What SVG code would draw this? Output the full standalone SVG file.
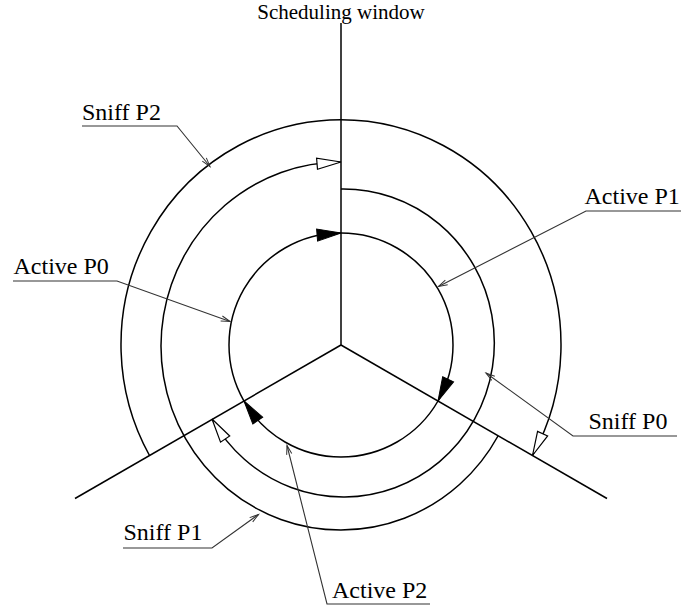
<svg xmlns="http://www.w3.org/2000/svg" width="681" height="607" viewBox="0 0 681 607">
  <style>
    .axis { stroke: #000; stroke-width: 1.5; fill: none; }
    .arc { stroke: #000; stroke-width: 1.5; fill: none; }
    .leader { stroke: #333; stroke-width: 1.1; fill: none; }
    .label { font-family: "Liberation Serif", "Times New Roman", serif; font-size: 24px; fill: #000; }
    .title { font-family: "Liberation Serif", "Times New Roman", serif; font-size: 21px; fill: #000; text-anchor: middle; }
  </style>
  <defs>
    <!-- solid head for the active periods (inner ring) -->
    <marker id="head-solid" markerUnits="userSpaceOnUse" orient="auto" markerWidth="30" markerHeight="20" viewBox="-28 -10 30 20" refX="0" refY="0" overflow="visible">
      <polygon points="0,0 -24.4,-3.9 -23.4,8.1" fill="#000" stroke="#000" stroke-width="1"/>
    </marker>
    <!-- hollow head for the sniff periods -->
    <marker id="head-hollow" markerUnits="userSpaceOnUse" orient="auto" markerWidth="30" markerHeight="20" viewBox="-28 -10 30 20" refX="0" refY="0" overflow="visible">
      <polygon points="0,0 -24.4,-3.8 -23.5,7.2" fill="#fff" stroke="#000" stroke-width="1.2" stroke-linejoin="miter"/>
    </marker>
    <!-- thin open barb for label leaders -->
    <marker id="barb" markerUnits="userSpaceOnUse" orient="auto" markerWidth="12" markerHeight="8" viewBox="-10 -4 12 8" refX="0" refY="0" overflow="visible">
      <path d="M-9,-2.6 L0,0 L-9,2.6" fill="none" stroke="#333" stroke-width="1"/>
    </marker>
  </defs>

  <!-- window boundaries -->
  <g id="axes">
    <line class="axis" x1="341" y1="23" x2="341" y2="345"/>
    <line class="axis" x1="341" y1="345" x2="75" y2="498.5"/>
    <line class="axis" x1="341" y1="345" x2="607" y2="498.5"/>
  </g>

  <g id="title">
    <text class="title" x="341" y="18.5">Scheduling window</text>
  </g>

  <!-- sniff periods: outer rings, each spanning two windows -->
  <g id="sniff-p2">
    <path class="arc" d="M149.5,455.5 A220,225 0 1 1 532.5,455.5" marker-end="url(#head-hollow)"/>
  </g>
  <g id="sniff-p1">
    <path class="arc" d="M498,436 A180,184 0 1 1 341,162" marker-end="url(#head-hollow)"/>
  </g>
  <g id="sniff-p0">
    <path class="arc" d="M341,189 A151,154 0 1 1 212,419" marker-end="url(#head-hollow)"/>
  </g>

  <!-- active periods: inner ring, one window each -->
  <g id="active-p0">
    <path class="arc" d="M244,401 A112,112 0 0 1 341,233" marker-end="url(#head-solid)"/>
  </g>
  <g id="active-p1">
    <path class="arc" d="M341,233 A112,112 0 0 1 438,401" marker-end="url(#head-solid)"/>
  </g>
  <g id="active-p2">
    <path class="arc" d="M438,401 A112,112 0 0 1 244,401" marker-end="url(#head-solid)"/>
  </g>

  <!-- labels with underline and leader -->
  <g id="connectors">
    <polyline class="leader" points="82,126 177,126 210,166.5" marker-end="url(#barb)"/>
    <polyline class="leader" points="13,281 117,281 230,321.5" marker-end="url(#barb)"/>
    <polyline class="leader" points="681,211 586,211 438.5,286.5" marker-end="url(#barb)"/>
    <polyline class="leader" points="677,436 573,436 486,373" marker-end="url(#barb)"/>
    <polyline class="leader" points="123,548 212,548 258.5,514.5" marker-end="url(#barb)"/>
    <polyline class="leader" points="430,604 327,604 287,445.5" marker-end="url(#barb)"/>
  </g>

  <g id="label-sniff-p2"><text class="label" x="82" y="120">Sniff P2</text></g>
  <g id="label-active-p0"><text class="label" x="13.5" y="273.5">Active P0</text></g>
  <g id="label-active-p1"><text class="label" x="584.5" y="203.5">Active P1</text></g>
  <g id="label-sniff-p0"><text class="label" x="588.5" y="428.5">Sniff P0</text></g>
  <g id="label-sniff-p1"><text class="label" x="123.5" y="540">Sniff P1</text></g>
  <g id="label-active-p2"><text class="label" x="332" y="598">Active P2</text></g>
</svg>
